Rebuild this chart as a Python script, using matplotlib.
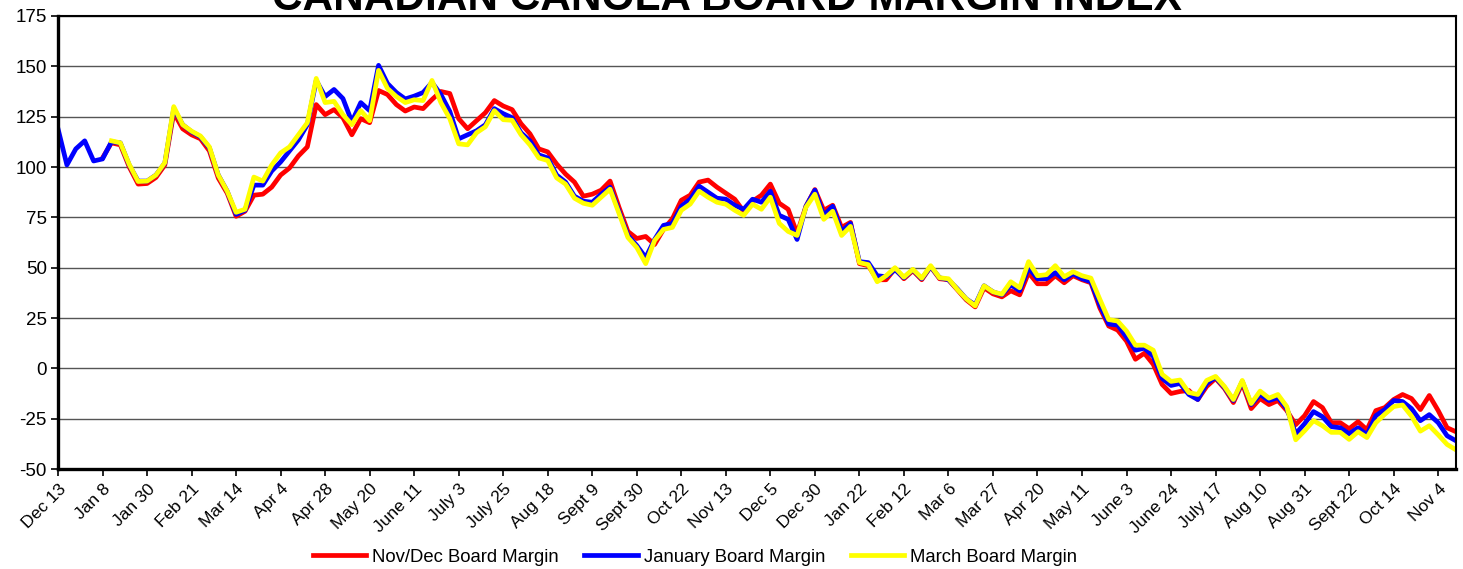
import matplotlib
matplotlib.use("Agg")
import matplotlib.pyplot as plt
import numpy as np

plt.rcParams['font.family'] = ['Liberation Sans', 'DejaVu Sans']
plt.rcParams['axes.unicode_minus'] = False

# one value every 3rd trading day, 15 trading days between labels
step = 3
tick_labels = ['Dec 13', 'Jan 8', 'Jan 30', 'Feb 21', 'Mar 14', 'Apr 4', 'Apr 28',
               'May 20', 'June 11', 'July 3', 'July 25', 'Aug 18', 'Sept 9',
               'Sept 30', 'Oct 22', 'Nov 13', 'Dec 5', 'Dec 30', 'Jan 22', 'Feb 12',
               'Mar 6', 'Mar 27', 'Apr 20', 'May 11', 'June 3', 'June 24',
               'July 17', 'Aug 10', 'Aug 31', 'Sept 22', 'Oct 14', 'Nov 4']

nan = np.nan
nov_dec = [nan, nan, nan, nan, nan, 104.5, 112, 111, 100, 91.5,
           91.8, 94.8, 101, 127, 119, 116, 114, 108, 94.5, 87,
           75.5, 78, 86, 86.5, 90, 96, 99.5, 105.5, 110, 131,
           126, 128.5, 124.5, 116, 124, 122, 138, 136, 131, 127.8,
           129.8, 129, 133.5, 137.5, 136.5, 124, 119, 123, 127, 133,
           130.3, 128.5, 121.5, 116.5, 109, 107.5, 101.5, 96.5, 92.5, 85.5,
           86.5, 88.5, 93, 80, 68, 64.5, 65.5, 61.5, 69, 74.3,
           83.5, 86, 92.5, 93.5, 90, 87, 84, 78, 83, 86,
           91.5, 82, 79, 67, 80.5, 88.8, 78.5, 81, 70, 72.5,
           52, 51, 44, 44, 49.5, 44.5, 48.5, 44, 50.5, 44.5,
           44, 39, 34, 30.5, 40, 37, 35.5, 38.5, 36.5, 47.5,
           42, 42, 46, 42.5, 46, 44, 42.5, 30, 21, 19,
           13.5, 4.5, 7.5, 2, -8, -12.5, -11.5, -11, -15.5, -9,
           -5, -10, -17, -7.5, -20, -15, -18, -16, -21, -28,
           -23.5, -16.5, -19.5, -27, -27, -30, -26.5, -30.5, -21, -19.5,
           -15.5, -13, -15, -20.5, -13.5, -21, -29.5, -31.5]

january = [119, 101, 109, 113, 103, 104, 112.5, 112, 101, 93,
           93, 96, 102, 129, 121, 117.5, 115, 109.5, 96, 88,
           76.5, 78.5, 91, 91, 98, 102.5, 108, 113.5, 121, 143,
           135, 138.5, 134, 122.5, 132, 128, 150.5, 141.5, 137, 133.8,
           135.2, 137, 142, 136, 127.6, 114, 116, 118, 121, 129,
           126.5, 124.5, 117, 113, 106, 104.5, 96, 92.5, 85.5, 83,
           82.5, 86.5, 90, 78, 66, 61, 55, 64, 71, 72,
           80.5, 84, 90.5, 87.5, 84.5, 84, 81, 79, 84, 82.5,
           88, 76, 74, 64, 80.5, 88.5, 76, 80.5, 68, 72,
           53, 52.5, 46, 45.5, 49, 45, 49, 44.5, 50.5, 45,
           44, 39.5, 34.5, 31.5, 41, 38, 36.5, 41.5, 38.5, 50,
           44.5, 44.5, 47.5, 44, 47, 44.5, 43, 31.5, 22, 21.5,
           15.5, 9, 10, 6, -5, -8.5, -7.5, -13, -15.5, -7.5,
           -4.5, -9.5, -16, -6.5, -18, -13, -16, -14.5, -20, -32.5,
           -27.5, -21.5, -24, -29, -29.5, -32.5, -29.5, -33, -23.5, -20.5,
           -16, -16.5, -20, -26, -23, -27, -33.5, -36]

march = [nan, nan, nan, nan, nan, nan, 113, 112, 101.3, 92.8,
         93, 96, 102.2, 130, 121, 117.8, 115.4, 110, 96, 88,
         77.5, 79, 95, 93, 101, 107, 110, 116, 122, 144,
         132, 132.6, 126, 121, 128, 123, 148, 139, 135, 132,
         133.4, 133, 143, 132, 124, 111.5, 111, 117, 120, 128,
         123.5, 123.2, 116, 111, 104.5, 103.2, 94.6, 91.5, 84.5, 82,
         81, 85, 89, 77, 65, 60, 52, 63.5, 69, 70,
         78.5, 81.6, 88, 85, 82.5, 81.5, 78.5, 76, 81.5, 79,
         85, 72, 68, 66, 80, 86.5, 74, 78, 66, 70.5,
         52.5, 51.5, 43, 46, 50, 45.3, 49.2, 44.8, 51, 45,
         44.5, 39.2, 34.5, 31, 41, 38, 36.8, 43, 40, 53,
         46, 46.5, 51, 45.5, 48, 46, 44.8, 34.3, 24.2, 23.5,
         18.5, 11.5, 11.5, 9, -3, -6.5, -5.8, -12, -13, -6,
         -4, -9, -15.5, -6, -17.5, -11.3, -14.8, -13, -19, -35.5,
         -31, -26, -28.5, -31.8, -31.8, -35.3, -31.5, -34.4, -27, -22.8,
         -19, -18.2, -23.7, -31.2, -28.5, -33, -37.8, -40.5]

series = [('Nov/Dec Board Margin', nov_dec, '#ff0000'),
          ('January Board Margin', january, '#0000ff'),
          ('March Board Margin', march, '#ffff00')]

fig = plt.figure(figsize=(14.63, 5.69), dpi=100)
ax = fig.add_axes([58 / 1463, 1 - 469 / 569, 1398 / 1463, 453 / 569])

for name, vals, col in series:
    day = np.arange(len(vals)) * step
    ax.plot(day, vals, color=col, lw=3.4, label=name, solid_joinstyle='round')

ax.set_ylim(-50, 175)
ax.set_yticks(np.arange(-50, 176, 25))
ax.set_xlim(0, (len(january) - 1) * step)
ax.set_xticks(np.arange(len(tick_labels)) * 15)
ax.set_xticklabels(tick_labels, rotation=45, ha='right', rotation_mode='anchor')
ax.tick_params(axis='y', labelsize=13.5, length=5, width=1.2, direction='out', pad=3)
ax.tick_params(axis='x', labelsize=12.5, length=5, width=1.2, direction='out', pad=4)
ax.grid(axis='y', color='#555555', lw=1)
ax.set_axisbelow(True)
for side in ['left', 'bottom']:
    ax.spines[side].set_linewidth(2.4)
for side in ['top', 'right']:
    ax.spines[side].set_linewidth(1.5)

fig.text(0.497, 1 - 10 / 569, 'CANADIAN CANOLA BOARD MARGIN INDEX', ha='center',
         va='baseline', fontsize=30.5, fontweight='bold')

fig.legend(loc='center', bbox_to_anchor=(0.475, 0.021), ncol=3, frameon=False,
           fontsize=13.3, handlelength=2.9, handletextpad=0.3, columnspacing=1.4)

fig.savefig('out.png', dpi=100)
